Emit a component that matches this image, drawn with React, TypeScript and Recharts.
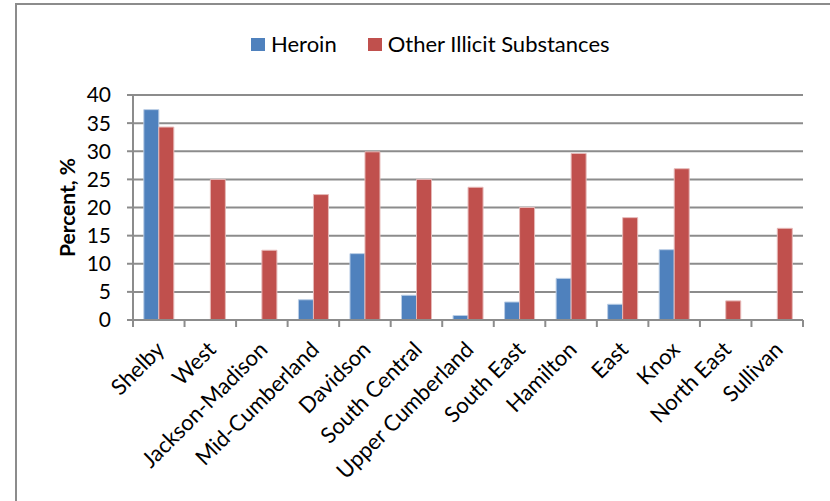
import { BarChart, Bar, XAxis, YAxis, CartesianGrid, Legend } from "recharts";

const regions = [
  "Shelby",
  "West",
  "Jackson-Madison",
  "Mid-Cumberland",
  "Davidson",
  "South Central",
  "Upper Cumberland",
  "South East",
  "Hamilton",
  "East",
  "Knox",
  "North East",
  "Sullivan",
];
const heroin = [37.4, null, null, 3.6, 11.8, 4.4, 0.8, 3.2, 7.4, 2.8, 12.5, null, null];
const otherIllicit = [34.3, 25.0, 12.4, 22.3, 29.9, 25.0, 23.6, 20.0, 29.6, 18.2, 26.9, 3.4, 16.3];
const yTicks = [0, 5, 10, 15, 20, 25, 30, 35, 40];

const data = regions.map((region, i) => ({
  region,
  heroin: heroin[i],
  other: otherIllicit[i],
}));

const FONT = "Lato, 'Open Sans', sans-serif";
const FONT_SIZE = 21;
const LABEL_SIZE = 22;
const AXIS_GRAY = "#8c8c8c";

// category label rotated 45deg plus tick marks on the band edges
function RegionTick(props: any) {
  const { x, y, payload, index } = props;
  const half = payload.offset ?? 0;
  const top = y - 8;
  return (
    <g>
      <line x1={x - half} x2={x - half} y1={top} y2={top + 7} stroke={AXIS_GRAY} strokeWidth={2} />
      {index === regions.length - 1 && (
        <line x1={x + half} x2={x + half} y1={top} y2={top + 7} stroke={AXIS_GRAY} strokeWidth={2} />
      )}
      <text
        x={0}
        y={0}
        transform={`translate(${x + 1}, ${top + 25}) rotate(-45)`}
        textAnchor="end"
        dominantBaseline="central"
        fontSize={LABEL_SIZE}
        fontFamily={FONT}
        fill="#000"
      >
        {payload.value}
      </text>
    </g>
  );
}

// zero-height wrapper so the legend does not push the plot down
function LegendContent(props: any) {
  const { payload } = props;
  return (
    <div style={{ height: 0, overflow: "visible" }}>
      <div style={{ display: "flex", alignItems: "center", paddingLeft: 251, fontFamily: FONT, fontSize: LABEL_SIZE, lineHeight: "24px" }}>
        {(payload || []).map((item: any, i: number) => (
          <div key={item.value} style={{ display: "flex", alignItems: "center", marginRight: i === 0 ? 31 : 0 }}>
            <span style={{ width: 14, height: 13, background: item.color, display: "inline-block", marginRight: 6 }} />
            <span style={{ color: "#000" }}>{item.value}</span>
          </div>
        ))}
      </div>
    </div>
  );
}

export default function App() {
  return (
    <div style={{ position: "absolute", left: 0, top: 0, width: 830, height: 501, overflow: "hidden", background: "#fff" }}>
      <div
        style={{
          position: "absolute",
          left: 15,
          top: 3,
          width: 900,
          height: 600,
          borderLeft: `2px solid ${AXIS_GRAY}`,
          borderTop: `2px solid ${AXIS_GRAY}`,
        }}
      />
      <BarChart
        width={830}
        height={501}
        data={data}
        margin={{ top: 95, right: 27, bottom: 0, left: 0 }}
        barCategoryGap="21%"
        barGap={0}
        style={{ position: "absolute", left: 0, top: 0 }}
      >
        <CartesianGrid vertical={false} stroke={AXIS_GRAY} strokeWidth={2} />
        <XAxis
          dataKey="region"
          interval={0}
          height={181}
          tickLine={false}
          axisLine={{ stroke: AXIS_GRAY, strokeWidth: 2 }}
          tick={<RegionTick />}
        />
        <YAxis
          width={133}
          domain={[0, 40]}
          ticks={yTicks}
          interval={0}
          tickSize={6}
          tickMargin={16}
          tickLine={{ stroke: AXIS_GRAY, strokeWidth: 2 }}
          axisLine={{ stroke: AXIS_GRAY, strokeWidth: 2 }}
          tick={{ fill: "#000", fontSize: FONT_SIZE, fontFamily: FONT }}
          label={{
            content: (p: any) => {
              const vb = p.viewBox || {};
              const cy = (vb.y ?? 95) + (vb.height ?? 224) / 2;
              return (
                <text
                  x={0}
                  y={0}
                  transform={`translate(66, ${cy}) rotate(-90)`}
                  textAnchor="middle"
                  dominantBaseline="central"
                  fontSize={FONT_SIZE}
                  fontWeight="bold"
                  fontFamily={FONT}
                  fill="#000"
                >
                  Percent, %
                </text>
              );
            },
          }}
        />
        <Legend
          verticalAlign="top"
          content={<LegendContent />}
          wrapperStyle={{ position: "absolute", top: 32, left: 0, width: 830 }}
        />
        <Bar dataKey="heroin" name="Heroin" fill="#4F81BD" stroke="#B9CDE5" strokeWidth={1} isAnimationActive={false} />
        <Bar dataKey="other" name="Other Illicit Substances" fill="#C0504D" stroke="#E6B9B8" strokeWidth={1} isAnimationActive={false} />
      </BarChart>
    </div>
  );
}
